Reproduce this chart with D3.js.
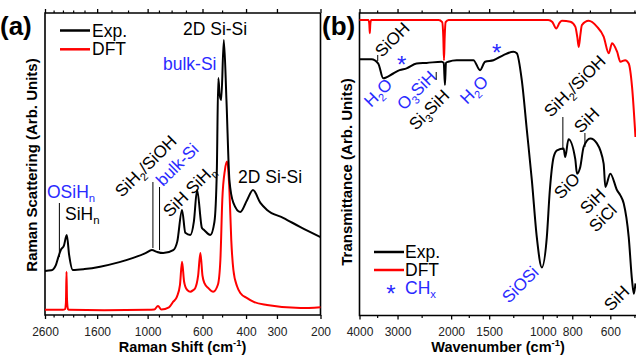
<!DOCTYPE html>
<html><head><meta charset="utf-8">
<script src="https://cdn.jsdelivr.net/npm/d3@7"></script>
<style>
body{margin:0;background:#fff;}
svg{display:block;font-family:"Liberation Sans",Arial,Helvetica,sans-serif;}
</style></head><body>
<svg id="chart" width="636" height="356"></svg>
<script>
// ---------- DATA ----------
// Panel (a): Raman
const ramanExpShift = [2600, 2450, 2350, 2302, 2245, 2180, 2123, 2077, 2007, 1800, 1556, 1300, 1144, 1020, 961, 917, 865, 788, 759, 726, 704, 672, 650, 631, 603, 590, 558, 537, 525, 518, 511, 504, 492, 480, 467, 450, 422, 396, 375, 350, 329, 282, 241, 200];
const ramanExpIntensity = [14.6, 14.8, 16.5, 18.9, 21.5, 23.0, 26.5, 19.9, 14.9, 15.2, 16.0, 17.5, 18.9, 20.5, 21.5, 20.9, 20.5, 21.5, 24.3, 34.8, 27.2, 26.5, 31.0, 41.4, 28.8, 28.1, 26.5, 30.8, 48.0, 78.5, 72.8, 71.2, 91.1, 71.0, 44.7, 37.1, 34.1, 38.1, 41.4, 37.1, 34.8, 32.1, 29.1, 25.8];
const ramanDftShift = [2600, 2200, 2160, 2140, 2128, 2118, 2100, 2080, 1500, 1000, 940, 908, 880, 820, 788, 761, 740, 726, 712, 704, 690, 672, 655, 642, 625, 612, 600, 590, 568, 543, 520, 508, 499, 487, 477, 467, 459, 450, 435, 422, 396, 374, 329, 241, 200];
const ramanDftIntensity = [1.7, 1.7, 1.9, 4.0, 14.3, 5.0, 2.0, 1.7, 1.6, 1.7, 1.8, 3.0, 1.8, 2.5, 4.4, 6.1, 10.0, 17.6, 11.0, 9.4, 8.2, 7.7, 8.2, 8.9, 13.0, 20.5, 13.0, 10.6, 8.9, 7.7, 10.0, 18.2, 38.1, 48.0, 50.8, 41.4, 24.8, 14.9, 9.5, 7.3, 5.6, 4.4, 3.3, 2.3, 2.6];
const ramanTicks = [2600, 1600, 1000, 600, 400, 300, 200];
const ramanMinorTicks = [2400, 2200, 2000, 1800, 1400, 1200, 900, 800, 700, 500];

// Panel (b): IR
const irExpWavenumber = [4000, 3652, 3471, 3343, 3099, 2954, 2802, 2597, 2407, 2149, 2115, 2096, 2080, 2043, 1918, 1690, 1607, 1547, 1452, 1346, 1248, 1217, 1172, 1128, 1086, 1046, 1007, 970, 948, 921, 898, 854, 844, 823, 782, 772, 753, 734, 698, 664, 631, 623, 600, 570, 556, 542, 522, 509, 502, 496];
const irExpTransmittance = [84.7, 84.7, 83.3, 78.4, 80.0, 81.1, 81.7, 83.3, 83.5, 83.9, 83.5, 76.2, 83.5, 83.9, 84.4, 84.4, 81.1, 83.9, 84.4, 86.1, 87.2, 86.7, 77.8, 61.3, 44.7, 25.8, 15.9, 25.8, 41.4, 52.4, 54.6, 55.2, 52.4, 58.3, 51.7, 46.9, 49.1, 55.7, 58.5, 56.9, 50.2, 42.5, 46.9, 41.4, 39.7, 37.0, 25.9, 11.6, 7.2, 10.6];
const irDftWavenumber = [4000, 3740, 3715, 3700, 3685, 3660, 2200, 2140, 2122, 2111, 2100, 2085, 2040, 960, 930, 903, 880, 865, 812, 782, 770, 762, 752, 744, 707, 664, 631, 607, 592, 570, 556, 536, 522, 509, 496];
const irDftTransmittance = [97.7, 97.7, 96.5, 93.3, 96.5, 97.7, 97.7, 97.0, 92.0, 84.4, 92.0, 97.0, 97.7, 97.7, 97.0, 94.9, 96.8, 97.4, 97.1, 95.5, 92.0, 88.8, 93.0, 96.0, 97.4, 95.5, 92.2, 86.7, 90.0, 87.2, 83.9, 84.4, 83.3, 75.6, 59.0];
const irTicks = [4000, 3000, 2000, 1500, 1000, 800, 600];
const irMinorTicks = [3500, 2500, 1750, 1250, 900, 700, 500];
const chxWavenumber = [2910, 1416];
const chxLevel = [84.4, 88.4];

// ---------- DRAW ----------
const BLUE = "#2a2aff", RED = "#ff0000", BLACK = "#000";
const svg = d3.select("#chart");

function label(g, x, y, parts, opts = {}) {
  const size = opts.size || 17;
  const t = g.append("text")
    .attr("transform", `translate(${x},${y})` + (opts.rot ? ` rotate(${opts.rot})` : ""))
    .attr("fill", opts.color || BLACK).attr("font-size", size)
    .attr("text-anchor", opts.anchor || "start")
    .attr("font-weight", opts.bold ? "bold" : null);
  let shift = 0;
  parts.forEach(p => {
    const s = typeof p === "string" ? { t: p } : p;
    const ts = t.append("tspan").text(s.t);
    const target = s.sub ? size * 0.25 : s.sup ? -size * 0.4 : 0;
    if (target !== shift) { ts.attr("dy", target - shift); shift = target; }
    if (s.sub || s.sup) ts.attr("font-size", size * 0.65);
  });
  return t;
}

function panel(x, y, xTicks, xMinor, drawRight) {
  const g = svg.append("g");
  const [x0, x1] = x.range(), [y0, y1] = y.range();
  const bot = g.append("g").attr("transform", `translate(0,${y0})`)
    .call(d3.axisBottom(x).tickValues(xTicks).tickSize(4).tickFormat(d => d));
  bot.select(".domain").remove();
  bot.selectAll("line").attr("stroke-width", 1.3);
  bot.selectAll("text").attr("y", 12).attr("dy", "0.71em").attr("font-size", 12)
    .attr("font-family", "Liberation Sans, Arial, sans-serif").attr("fill", "#222");
  const botm = g.append("g").attr("transform", `translate(0,${y0})`)
    .call(d3.axisBottom(x).tickValues(xMinor).tickSize(2.5).tickFormat(""));
  botm.select(".domain").remove();
  botm.selectAll("line").attr("stroke-width", 1.2);
  const top = g.append("g").attr("transform", `translate(0,${y1})`)
    .call(d3.axisTop(x).tickValues(xTicks).tickSize(4).tickFormat(""));
  top.select(".domain").remove();
  top.selectAll("line").attr("stroke-width", 1.3);
  const topm = g.append("g").attr("transform", `translate(0,${y1})`)
    .call(d3.axisTop(x).tickValues(xMinor).tickSize(2.5).tickFormat(""));
  topm.select(".domain").remove();
  topm.selectAll("line").attr("stroke-width", 1.2);
  let d = `M${x1},${y1}H${x0}V${y0}H${x1}`;
  if (drawRight) d += `V${y1}`;
  g.append("path").attr("d", d).attr("fill", "none").attr("stroke", BLACK).attr("stroke-width", 1.6);
  return g;
}

function curve(g, x, y, xs, ys, color) {
  const pts = xs.map((v, i) => [v, ys[i]]);
  g.append("path").datum(pts)
    .attr("d", d3.line().x(d => x(d[0])).y(d => y(d[1])).curve(d3.curveMonotoneX))
    .attr("fill", "none").attr("stroke", color).attr("stroke-width", 2).attr("stroke-linejoin", "round");
}

// ---- Panel (a)
const xa = d3.scaleLog().domain([2600, 200]).range([45, 320.5]);
const ya = d3.scaleLinear().domain([0, 100]).range([315, 13]);
const ga = panel(xa, ya, ramanTicks, ramanMinorTicks, true);
curve(ga, xa, ya, ramanDftShift, ramanDftIntensity, RED);
curve(ga, xa, ya, ramanExpShift, ramanExpIntensity, BLACK);

label(ga, 0, 35, ["(a)"], { size: 26, bold: true });
label(ga, 182.5, 352, ["Raman Shift (cm", { t: "-1", sup: 1 }, ")"], { size: 14.5, bold: true, anchor: "middle" });
label(ga, 37, 165, ["Raman Scattering (Arb. Units)"], { size: 15, bold: true, anchor: "middle", rot: -90 });
ga.append("line").attr("x1", 60).attr("x2", 90).attr("y1", 30.5).attr("y2", 30.5).attr("stroke", BLACK).attr("stroke-width", 2.5);
ga.append("line").attr("x1", 60).attr("x2", 90).attr("y1", 49.3).attr("y2", 49.3).attr("stroke", RED).attr("stroke-width", 2.5);
label(ga, 92, 36.5, ["Exp."], { size: 17.5 });
label(ga, 92, 55, ["DFT"], { size: 17.5 });
label(ga, 183, 35, ["2D Si-Si"], { size: 17.5 });
label(ga, 163, 70, ["bulk-Si"], { size: 17.5, color: BLUE });
label(ga, 238, 183, ["2D Si-Si"], { size: 17.5 });
label(ga, 47, 198, ["OSiH", { t: "n", sub: 1 }], { size: 17.5, color: BLUE });
label(ga, 65, 220, ["SiH", { t: "n", sub: 1 }], { size: 17.5 });
label(ga, 122, 198, ["SiH", { t: "2", sub: 1 }, "/SiOH"], { size: 17, rot: -45 });
label(ga, 163, 187, ["bulk-Si"], { size: 17, rot: -45, color: BLUE });
label(ga, 170, 218, ["SiH SiH", { t: "n", sub: 1 }], { size: 17, rot: -45 });
[[2274, 203, 257], [952, 182, 248], [895, 187, 250]].forEach(([w, t, b]) => {
  ga.append("line").attr("x1", xa(w)).attr("x2", xa(w)).attr("y1", t).attr("y2", b).attr("stroke", BLACK).attr("stroke-width", 1);
});

// ---- Panel (b)
const xb = d3.scaleLog().domain([4000, 494]).range([359.5, 636]);
const yb = d3.scaleLinear().domain([0, 100]).range([315.5, 13]);
const gb = panel(xb, yb, irTicks, irMinorTicks, false);
curve(gb, xb, yb, irDftWavenumber, irDftTransmittance, RED);
curve(gb, xb, yb, irExpWavenumber, irExpTransmittance, BLACK);

label(gb, 322, 35, ["(b)"], { size: 26, bold: true });
label(gb, 498, 352, ["Wavenumber (cm", { t: "-1", sup: 1 }, ")"], { size: 14.5, bold: true, anchor: "middle" });
label(gb, 352, 172, ["Transmittance (Arb. Units)"], { size: 15, bold: true, anchor: "middle", rot: -90 });
gb.append("line").attr("x1", 374).attr("x2", 404).attr("y1", 252).attr("y2", 252).attr("stroke", BLACK).attr("stroke-width", 2.5);
gb.append("line").attr("x1", 374).attr("x2", 404).attr("y1", 270).attr("y2", 270).attr("stroke", RED).attr("stroke-width", 2.5);
label(gb, 405, 258, ["Exp."], { size: 17.5 });
label(gb, 405, 276, ["DFT"], { size: 17.5 });
label(gb, 391, 302, ["*"], { size: 24, color: BLUE, anchor: "middle" });
label(gb, 405, 294, ["CH", { t: "x", sub: 1 }], { size: 17.5, color: BLUE });
chxWavenumber.forEach((w, i) => {
  label(gb, xb(w), yb(chxLevel[i]) + 13, ["*"], { size: 24, color: BLUE, anchor: "middle" });
});
label(gb, 382, 58, ["SiOH"], { size: 17, rot: -45 });
label(gb, 371, 108, ["H", { t: "2", sub: 1 }, "O"], { size: 17, rot: -45, color: BLUE });
label(gb, 404, 111, ["O", { t: "3", sub: 1 }, "SiH"], { size: 17, rot: -45, color: BLUE });
label(gb, 416, 131, ["Si", { t: "3", sub: 1 }, "SiH"], { size: 17, rot: -45 });
label(gb, 467, 105, ["H", { t: "2", sub: 1 }, "O"], { size: 17, rot: -45, color: BLUE });
label(gb, 551, 118, ["SiH", { t: "2", sub: 1 }, "/SiOH"], { size: 17, rot: -45 });
label(gb, 581, 134, ["SiH"], { size: 17, rot: -45 });
label(gb, 561, 200, ["SiO"], { size: 17, rot: -45 });
label(gb, 587, 215, ["SiH"], { size: 17, rot: -45 });
label(gb, 596, 233, ["SiCl"], { size: 17, rot: -45 });
label(gb, 509, 304, ["SiOSi"], { size: 17, rot: -45, color: BLUE });
label(gb, 611, 312, ["SiH"], { size: 17, rot: -45 });
[[3485, 55, 61], [2239, 72, 80], [859, 117, 150], [727, 133, 147]].forEach(([w, t, b]) => {
  gb.append("line").attr("x1", xb(w)).attr("x2", xb(w)).attr("y1", t).attr("y2", b).attr("stroke", BLACK).attr("stroke-width", 1);
});
</script>
</body></html>
